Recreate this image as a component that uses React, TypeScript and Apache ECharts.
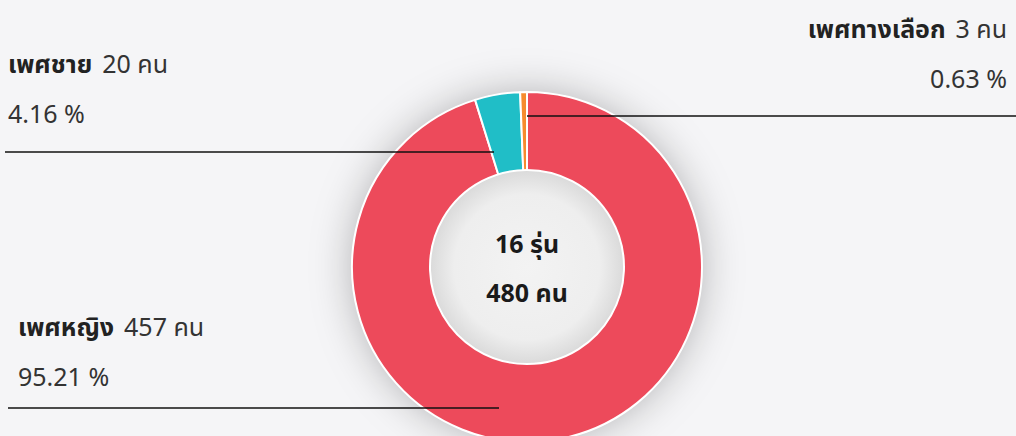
import React, { useEffect, useRef } from "react";
import * as echarts from "echarts";

const names = ["เพศหญิง", "เพศชาย", "เพศทางเลือก"];
const counts = [457, 20, 3];
const percents = ["95.21", "4.16", "0.63"];
const colors = ["#ED4A5B", "#20BEC7", "#F68B2E"];
const centerLines = ["16 รุ่น", "480 คน"];

// label placement (layout only)
const labelPlace = [
  { x: 18, y: 301, align: "left", lineY: 408, x1: 8, x2: 499 },
  { x: 8, y: 38, align: "left", lineY: 152, x1: 5, x2: 494 },
  { x: 1007, y: 3, align: "right", lineY: 116, x1: 1016, x2: 527 },
];

const FONT = "'Noto Sans', 'Noto Sans Thai', Tahoma, sans-serif";
const FS = 25;

export default function App() {
  const ref = useRef<HTMLDivElement>(null);
  useEffect(() => {
    document.body.style.margin = "0";
    const chart = echarts.init(ref.current!, null, { renderer: "svg" });
    const center = ["51.87%", 267];
    const pieData = names.map((n, i) => ({
      name: n,
      value: counts[i],
      itemStyle: { color: colors[i] },
    }));
    chart.setOption({
      animation: false,
      backgroundColor: "#F5F5F7",
      series: [
        {
          type: "pie",
          silent: true,
          center,
          radius: [0, 175],
          label: { show: false },
          labelLine: { show: false },
          itemStyle: {
            color: "#e6e6e8",
            shadowBlur: 40,
            shadowColor: "rgba(0,0,0,0.28)",
          },
          data: [1],
          z: 1,
        },
        {
          type: "pie",
          silent: true,
          center,
          radius: [96, 175],
          startAngle: 90,
          clockwise: true,
          z: 2,
          itemStyle: { borderColor: "#ffffff", borderWidth: 2 },
          label: { show: false },
          labelLine: { show: false },
          data: pieData,
        },
        {
          type: "pie",
          silent: true,
          center,
          radius: [0, 97],
          z: 3,
          itemStyle: {
            borderColor: "#ffffff",
            borderWidth: 2,
            color: {
              type: "radial",
              x: 0.5,
              y: 0.5,
              r: 0.5,
              colorStops: [
                { offset: 0, color: "#f3f3f3" },
                { offset: 0.75, color: "#eeeeee" },
                { offset: 1, color: "#dadada" },
              ],
            },
          },
          label: {
            show: true,
            position: "center",
            formatter: centerLines.join("\n"),
            fontFamily: FONT,
            fontWeight: "bold",
            fontSize: FS,
            lineHeight: 49,
            color: "#1a1a1a",
          },
          labelLine: { show: false },
          data: [1],
        },
        {
          type: "pie",
          silent: true,
          center,
          radius: [96, 175],
          startAngle: 90,
          clockwise: true,
          z: 4,
          itemStyle: { color: "rgba(0,0,0,0)", borderWidth: 0 },
          label: {
            show: true,
            position: "outside",
            fontFamily: FONT,
            color: "#222",
            formatter: (p: any) =>
              `{b|${names[p.dataIndex]}}{n|${counts[p.dataIndex]} คน}\n{p|${percents[p.dataIndex]} %}`,
            rich: {
              b: { fontWeight: "bold", fontSize: FS, lineHeight: 50, color: "#222", fontFamily: FONT },
              n: { fontSize: FS, lineHeight: 50, color: "#333", fontFamily: FONT, padding: [0, 0, 0, 10] },
              p: { fontSize: FS, lineHeight: 50, color: "#333", fontFamily: FONT },
            },
          },
          labelLine: {
            show: true,
            smooth: false,
            lineStyle: { color: "#111", width: 1.3 },
          },
          labelLayout: (params: any) => {
            const L = labelPlace[params.dataIndex];
            return {
              x: L.x,
              y: L.y,
              align: L.align,
              verticalAlign: "top",
              labelLinePoints: [
                [L.x2, L.lineY],
                [(L.x1 + L.x2) / 2, L.lineY],
                [L.x1, L.lineY],
              ],
            };
          },
          data: names.map((n, i) => ({ name: n, value: counts[i] })),
        },
      ],
    });
    return () => chart.dispose();
  }, []);
  return <div ref={ref} style={{ width: 1016, height: 436 }} />;
}
